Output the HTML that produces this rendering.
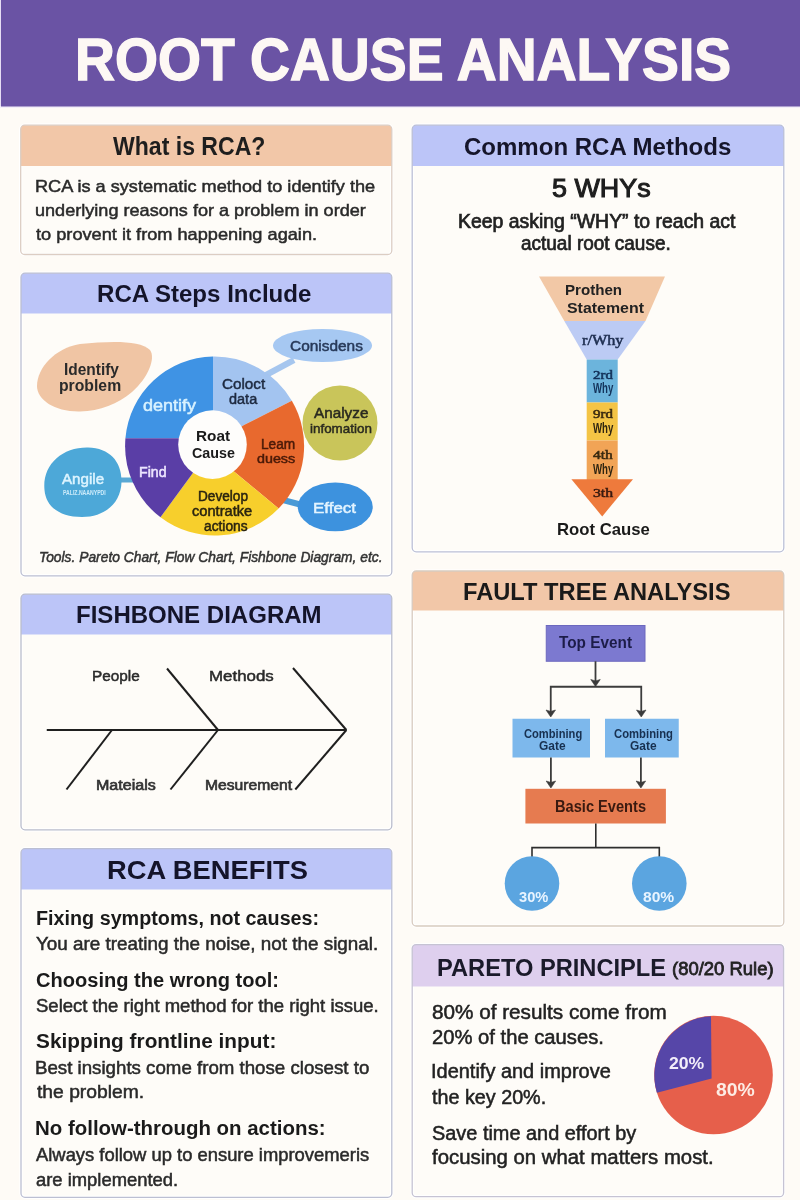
<!DOCTYPE html>
<html><head><meta charset="utf-8"><title>Root Cause Analysis</title>
<style>
html,body{margin:0;padding:0;}
body{width:800px;height:1200px;overflow:hidden;position:relative;background:#FEFBF6;font-family:"Liberation Sans",sans-serif;}
.t{position:absolute;white-space:nowrap;line-height:1;transform-origin:0 0;}
.card{position:absolute;box-sizing:border-box;border-radius:5px;overflow:hidden;background:#FEFCF8;}
.hd{position:absolute;left:0;top:0;right:0;}
svg{position:absolute;left:0;top:0;}
#w{position:absolute;left:0;top:0;width:800px;height:1200px;overflow:hidden;filter:blur(0.3px);}
</style></head><body><div id="w">
<svg width="800" height="1200" viewBox="0 0 800 1200">
<rect x="0" y="0" width="1.2" height="108" fill="#E6DDF4"/>
<rect x="0" y="106" width="800" height="2" fill="#F3EEF8"/>
<rect x="1" y="0" width="799" height="106.5" fill="#6A53A4"/>
<rect x="20.7" y="125.2" width="371.10" height="129.30" rx="4" fill="#FEFCF8" stroke="#FFFFFF" stroke-width="3.2"/>
<path d="M20.7,166 V129.2 a4,4 0 0 1 4,-4 H387.8 a4,4 0 0 1 4,4 V166 Z" fill="#F2C7A8"/>
<rect x="20.7" y="125.2" width="371.10" height="129.30" rx="4" fill="none" stroke="#DCCDC3" stroke-width="1.3"/>
<rect x="21" y="273.2" width="370.80" height="302.60" rx="4" fill="#FEFCF8" stroke="#FFFFFF" stroke-width="3.2"/>
<path d="M21,313.5 V277.2 a4,4 0 0 1 4,-4 H387.8 a4,4 0 0 1 4,4 V313.5 Z" fill="#BCC5F8"/>
<rect x="21" y="273.2" width="370.80" height="302.60" rx="4" fill="none" stroke="#BCBFD2" stroke-width="1.3"/>
<rect x="21" y="594.2" width="370.80" height="235.60" rx="4" fill="#FEFCF8" stroke="#FFFFFF" stroke-width="3.2"/>
<path d="M21,634.5 V598.2 a4,4 0 0 1 4,-4 H387.8 a4,4 0 0 1 4,4 V634.5 Z" fill="#BCC5F8"/>
<rect x="21" y="594.2" width="370.80" height="235.60" rx="4" fill="none" stroke="#BABDCC" stroke-width="1.3"/>
<rect x="21" y="848.7" width="370.80" height="348.60" rx="4" fill="#FEFCF8" stroke="#FFFFFF" stroke-width="3.2"/>
<path d="M21,889.5 V852.7 a4,4 0 0 1 4,-4 H387.8 a4,4 0 0 1 4,4 V889.5 Z" fill="#BCC5F8"/>
<rect x="21" y="848.7" width="370.80" height="348.60" rx="4" fill="none" stroke="#BCBFD2" stroke-width="1.3"/>
<rect x="412.2" y="125.2" width="371.60" height="426.60" rx="4" fill="#FEFCF8" stroke="#FFFFFF" stroke-width="3.2"/>
<path d="M412.2,166 V129.2 a4,4 0 0 1 4,-4 H779.8 a4,4 0 0 1 4,4 V166 Z" fill="#BCC5F8"/>
<rect x="412.2" y="125.2" width="371.60" height="426.60" rx="4" fill="none" stroke="#BCC0D6" stroke-width="1.3"/>
<rect x="412.2" y="571" width="371.60" height="355.00" rx="4" fill="#FEFCF8" stroke="#FFFFFF" stroke-width="3.2"/>
<path d="M412.2,610.5 V575 a4,4 0 0 1 4,-4 H779.8 a4,4 0 0 1 4,4 V610.5 Z" fill="#F2C7A8"/>
<rect x="412.2" y="571" width="371.60" height="355.00" rx="4" fill="none" stroke="#D8CBBF" stroke-width="1.3"/>
<rect x="412.2" y="944.6" width="371.40" height="252.10" rx="4" fill="#FEFCF8" stroke="#FFFFFF" stroke-width="3.2"/>
<path d="M412.2,986.5 V948.6 a4,4 0 0 1 4,-4 H779.6 a4,4 0 0 1 4,4 V986.5 Z" fill="#DECFEE"/>
<rect x="412.2" y="944.6" width="371.40" height="252.10" rx="4" fill="none" stroke="#C6C3D3" stroke-width="1.3"/>
<!-- RCA steps diagram -->
<path d="M80,344 C110,341 140,340 150,350 C156,358 148,378 132,392 C118,404 100,411 80,411.5 C55,412 37,400 37,386 C37,368 55,348 80,344 Z" fill="#F0C5A4"/>
<line x1="294" y1="360" x2="266" y2="375" stroke="#A6C6EE" stroke-width="6"/>
<ellipse cx="322.5" cy="345.5" rx="49.5" ry="16.5" fill="#A6C8F2"/>
<circle cx="340" cy="423" r="37.5" fill="#C9C55A"/>
<line x1="118" y1="480" x2="134" y2="480" stroke="#5AA8D4" stroke-width="5"/>
<path d="M44.5,490 C42,465 62,447 88,447.5 C110,448 122,462 121.5,482 C121,503 105,517 82,517 C60,517 46,507 44.5,490 Z" fill="#4DA8D8"/>
<line x1="283" y1="500" x2="302" y2="505" stroke="#4A9AD6" stroke-width="6"/>
<ellipse cx="335.25" cy="506.9" rx="37.5" ry="24.4" fill="#3D92DE"/>
<path d="M212.5,444.5 L205.00,438.30 L125.43,438.30 A89.5,89.5 0 0 1 213.00,356.51 L213.00,420.00 Z" fill="#3F93E4"/>
<path d="M212.5,444.5 L213.00,420.00 L213.00,356.51 A89.5,89.5 0 0 1 291.86,400.82 L244.00,425.00 Z" fill="#A3C4F0"/>
<path d="M212.5,444.5 L244.00,425.00 L291.86,400.82 A89.5,89.5 0 0 1 278.60,508.57 L234.00,471.40 Z" fill="#E8692E"/>
<path d="M212.5,444.5 L234.00,471.40 L278.60,508.57 A89.5,89.5 0 0 1 160.47,517.27 L192.90,473.10 Z" fill="#F7CF2C"/>
<path d="M212.5,444.5 L192.90,473.10 L160.47,517.27 A89.5,89.5 0 0 1 125.43,438.30 L205.00,438.30 Z" fill="#5A3EA6"/>
<circle cx="212.5" cy="444.6" r="34.3" fill="#FEFDFB"/>
<!-- funnel -->
<polygon points="539,276.6 665,276.6 645.5,321 564.3,321" fill="#F2C8A6"/>
<polygon points="564.3,321 645.5,321 617.7,359.6 586.7,359.6" fill="#BCCBF4"/>
<rect x="586.7" y="359.5" width="31" height="43" fill="#6CB4DC"/>
<rect x="586.7" y="402.5" width="31" height="38" fill="#F4C445"/>
<rect x="586.7" y="440.5" width="31" height="39.5" fill="#F1A456"/>
<polygon points="571.4,479.2 633,479.2 602.2,516.4" fill="#EE7A3C"/>
<!-- fishbone -->
<g stroke="#1F1F1F" stroke-width="2" fill="none" stroke-linecap="butt">
<line x1="46.75" y1="730" x2="346.4" y2="730"/>
<line x1="167" y1="668.5" x2="218" y2="730"/>
<line x1="293" y1="668" x2="346.4" y2="730"/>
<line x1="112" y1="730" x2="66.5" y2="789.5"/>
<line x1="218" y1="730" x2="170.5" y2="789.5"/>
<line x1="346.4" y1="730" x2="295.3" y2="789.5"/>
</g>
<!-- fault tree -->
<rect x="546.25" y="625.5" width="98.75" height="35.75" fill="#7C79D0" stroke="#6C68BE" stroke-width="1"/>
<rect x="512.5" y="718.75" width="77.5" height="38.75" fill="#7DB8EC"/>
<rect x="605" y="718.75" width="73.75" height="38.75" fill="#7DB8EC"/>
<rect x="525.4" y="788.8" width="140.5" height="34.7" fill="#E67B50"/>
<g stroke="#3C3C3C" stroke-width="1.8" fill="none">
<line x1="595.5" y1="661.25" x2="595.5" y2="684"/>
<polyline points="550.75,714 550.75,686.75 641.25,686.75 641.25,714"/>
<line x1="550.9" y1="757.5" x2="550.9" y2="785"/>
<line x1="640.9" y1="757.5" x2="640.9" y2="785"/>
</g>
<g fill="#3A3A3A" stroke="#3A3A3A" stroke-width="0.6" stroke-linejoin="round">
<path d="M590.75,679.50 L595.50,680.90 L600.25,679.50 L595.50,686.50 Z"/>
<path d="M546.00,710.00 L550.75,711.40 L555.50,710.00 L550.75,717.00 Z"/>
<path d="M636.50,710.00 L641.25,711.40 L646.00,710.00 L641.25,717.00 Z"/>
<path d="M546.15,781.00 L550.90,782.40 L555.65,781.00 L550.90,788.00 Z"/>
<path d="M636.15,781.00 L640.90,782.40 L645.65,781.00 L640.90,788.00 Z"/>
</g>
<g stroke="#2E2E2E" stroke-width="1.6" fill="none">
<line x1="595.8" y1="823.5" x2="595.8" y2="847.6"/>
<polyline points="532,857 532,847.6 659.3,847.6 659.3,857"/>
</g>
<circle cx="532" cy="883.5" r="27.3" fill="#5BA5E0"/>
<circle cx="659.3" cy="883.5" r="27.3" fill="#5BA5E0"/>
<!-- pareto pie -->
<circle cx="713.5" cy="1075" r="59.3" fill="#E65F4B"/>
<path d="M711.6,1078.5 L711,1016.2 A59.3,59.3 0 0 0 656.9,1092.8 Z" fill="#5646A8"/>

</svg>
<div class="t" id="t0" style="left:75.44px;top:30.00px;font-size:60.14px;font-weight:700;color:#FDF8F4;-webkit-text-stroke:1.4px currentColor;transform:scaleX(0.9193);">ROOT CAUSE ANALYSIS</div>
<div class="t" id="t1" style="left:112.57px;top:134.00px;font-size:25.07px;font-weight:700;color:#1E1E1E;transform:scaleX(0.9198);">What is RCA?</div>
<div class="t" id="t2" style="left:34.95px;top:178.00px;font-size:17.39px;font-weight:400;color:#2A2A2A;-webkit-text-stroke:0.5px currentColor;transform:scaleX(1.0454);">RCA is a systematic method to identify the</div>
<div class="t" id="t3" style="left:35.10px;top:202.00px;font-size:17.39px;font-weight:400;color:#2A2A2A;-webkit-text-stroke:0.5px currentColor;transform:scaleX(1.0412);">underlying reasons for a problem in order</div>
<div class="t" id="t4" style="left:36.12px;top:226.00px;font-size:17.39px;font-weight:400;color:#2A2A2A;-webkit-text-stroke:0.5px currentColor;transform:scaleX(1.0467);">to provent it from happening again.</div>
<div class="t" id="t5" style="left:463.87px;top:135.00px;font-size:24.64px;font-weight:700;color:#15152A;transform:scaleX(0.9753);">Common RCA Methods</div>
<div class="t" id="t6" style="left:551.83px;top:176.00px;font-size:24.93px;font-weight:500;color:#1E1E1E;-webkit-text-stroke:1.0px currentColor;transform:scaleX(1.0799);">5 WHYs</div>
<div class="t" id="t7" style="left:458.22px;top:212.00px;font-size:19.57px;font-weight:500;color:#222;-webkit-text-stroke:0.7px currentColor;transform:scaleX(0.9930);">Keep asking “WHY” to reach act</div>
<div class="t" id="t8" style="left:520.50px;top:234.00px;font-size:19.57px;font-weight:500;color:#222;-webkit-text-stroke:0.7px currentColor;transform:scaleX(0.9695);">actual root cause.</div>
<div class="t" id="t9" style="left:564.87px;top:282.00px;font-size:15.07px;font-weight:700;color:#222;transform:scaleX(1.0035);">Prothen</div>
<div class="t" id="t10" style="left:566.87px;top:300.00px;font-size:15.07px;font-weight:700;color:#222;transform:scaleX(1.0572);">Statement</div>
<div class="t" id="t11" style="left:582.04px;top:333.00px;font-size:14.96px;font-weight:400;color:#1E2E50;font-family:'Liberation Serif',serif;-webkit-text-stroke:0.55px currentColor;transform:scaleX(1.0835);">r/Why</div>
<div class="t" id="t12" style="left:593.18px;top:368.00px;font-size:12.98px;font-weight:400;color:#13325a;font-family:'Liberation Serif',serif;-webkit-text-stroke:0.55px currentColor;transform:scaleX(1.1476);">2rd</div>
<div class="t" id="t13" style="left:592.85px;top:382.00px;font-size:13.77px;font-weight:700;color:#13325a;transform:scaleX(0.6982);">Why</div>
<div class="t" id="t14" style="left:593.20px;top:407.00px;font-size:12.98px;font-weight:400;color:#3a2a10;font-family:'Liberation Serif',serif;-webkit-text-stroke:0.55px currentColor;transform:scaleX(1.1463);">9rd</div>
<div class="t" id="t15" style="left:592.85px;top:422.00px;font-size:13.77px;font-weight:700;color:#2e2410;transform:scaleX(0.6982);">Why</div>
<div class="t" id="t16" style="left:593.37px;top:448.00px;font-size:12.98px;font-weight:400;color:#3a2a10;font-family:'Liberation Serif',serif;-webkit-text-stroke:0.55px currentColor;transform:scaleX(1.1924);">4th</div>
<div class="t" id="t17" style="left:592.85px;top:463.00px;font-size:13.77px;font-weight:700;color:#2e2410;transform:scaleX(0.6982);">Why</div>
<div class="t" id="t18" style="left:593.09px;top:486.00px;font-size:12.98px;font-weight:400;color:#3a1a10;font-family:'Liberation Serif',serif;-webkit-text-stroke:0.55px currentColor;transform:scaleX(1.2096);">3th</div>
<div class="t" id="t19" style="left:556.78px;top:522.00px;font-size:16.67px;font-weight:700;color:#1a1a1a;transform:scaleX(1.0039);">Root Cause</div>
<div class="t" id="t20" style="left:97.13px;top:282.00px;font-size:24.78px;font-weight:700;color:#14142A;transform:scaleX(0.9716);">RCA Steps Include</div>
<div class="t" id="t21" style="left:63.87px;top:361.00px;font-size:16.23px;font-weight:700;color:#2a2a2a;transform:scaleX(0.9531);">Identify</div>
<div class="t" id="t22" style="left:58.83px;top:378.00px;font-size:15.94px;font-weight:700;color:#2a2a2a;transform:scaleX(0.9884);">problem</div>
<div class="t" id="t23" style="left:290.43px;top:338.00px;font-size:15.07px;font-weight:400;color:#283a5a;-webkit-text-stroke:0.5px currentColor;transform:scaleX(1.0243);">Conisdens</div>
<div class="t" id="t24" style="left:143.22px;top:398.00px;font-size:15.94px;font-weight:400;color:#D8F2FF;-webkit-text-stroke:0.5px currentColor;transform:scaleX(1.1307);">dentify</div>
<div class="t" id="t25" style="left:221.95px;top:376.00px;font-size:15.22px;font-weight:400;color:#1e2a40;-webkit-text-stroke:0.5px currentColor;transform:scaleX(1.0012);">Coloct</div>
<div class="t" id="t26" style="left:229.05px;top:391.00px;font-size:15.22px;font-weight:400;color:#1e2a40;-webkit-text-stroke:0.5px currentColor;transform:scaleX(0.9517);">data</div>
<div class="t" id="t27" style="left:313.86px;top:406.00px;font-size:14.49px;font-weight:400;color:#2a2a20;-webkit-text-stroke:0.5px currentColor;transform:scaleX(1.0553);">Analyze</div>
<div class="t" id="t28" style="left:310.41px;top:422.00px;font-size:13.33px;font-weight:400;color:#2a2a20;-webkit-text-stroke:0.5px currentColor;transform:scaleX(1.0063);">infomation</div>
<div class="t" id="t29" style="left:196.32px;top:429.00px;font-size:14.49px;font-weight:700;color:#1a1a1a;transform:scaleX(1.0582);">Roat</div>
<div class="t" id="t30" style="left:191.85px;top:446.00px;font-size:14.49px;font-weight:700;color:#1a1a1a;transform:scaleX(0.9876);">Cause</div>
<div class="t" id="t31" style="left:261.41px;top:438.00px;font-size:13.77px;font-weight:400;color:#4a1a08;-webkit-text-stroke:0.5px currentColor;transform:scaleX(0.9931);">Leam</div>
<div class="t" id="t32" style="left:257.08px;top:452.00px;font-size:13.04px;font-weight:400;color:#4a1a08;-webkit-text-stroke:0.5px currentColor;transform:scaleX(1.0966);">duess</div>
<div class="t" id="t33" style="left:138.87px;top:466.00px;font-size:13.77px;font-weight:400;color:#EDE6FF;-webkit-text-stroke:0.5px currentColor;transform:scaleX(1.0286);">Find</div>
<div class="t" id="t34" style="left:62.11px;top:471.00px;font-size:15.22px;font-weight:400;color:#DDF4FF;-webkit-text-stroke:0.5px currentColor;transform:scaleX(0.9961);">Angile</div>
<div class="t" id="t35" style="left:62.64px;top:489.00px;font-size:7.25px;font-weight:700;color:#CDEBFA;transform:scaleX(0.7091);">PALIZ.NAANYPDI</div>
<div class="t" id="t36" style="left:197.66px;top:490.00px;font-size:13.77px;font-weight:400;color:#2a2410;-webkit-text-stroke:0.5px currentColor;transform:scaleX(0.9893);">Develop</div>
<div class="t" id="t37" style="left:192.06px;top:505.00px;font-size:13.77px;font-weight:400;color:#2a2410;-webkit-text-stroke:0.5px currentColor;transform:scaleX(1.0621);">contratke</div>
<div class="t" id="t38" style="left:204.07px;top:520.00px;font-size:13.77px;font-weight:400;color:#2a2410;-webkit-text-stroke:0.5px currentColor;transform:scaleX(0.9988);">actions</div>
<div class="t" id="t39" style="left:313.42px;top:500.00px;font-size:15.22px;font-weight:400;color:#E3F4FF;-webkit-text-stroke:0.5px currentColor;transform:scaleX(1.1141);">Effect</div>
<div class="t" id="t40" style="left:39.31px;top:550.00px;font-size:14.49px;font-weight:400;color:#333;font-style:italic;-webkit-text-stroke:0.5px currentColor;transform:scaleX(0.9540);">Tools. Pareto Chart, Flow Chart, Fishbone Diagram, etc.</div>
<div class="t" id="t41" style="left:75.97px;top:603.00px;font-size:24.49px;font-weight:700;color:#14142A;transform:scaleX(0.9813);">FISHBONE DIAGRAM</div>
<div class="t" id="t42" style="left:92.16px;top:668.00px;font-size:15.51px;font-weight:400;color:#2A2A2A;-webkit-text-stroke:0.5px currentColor;transform:scaleX(0.9889);">People</div>
<div class="t" id="t43" style="left:209.05px;top:668.00px;font-size:15.51px;font-weight:400;color:#2A2A2A;-webkit-text-stroke:0.5px currentColor;transform:scaleX(1.0902);">Methods</div>
<div class="t" id="t44" style="left:96.25px;top:777.00px;font-size:15.51px;font-weight:500;color:#333;-webkit-text-stroke:0.7px currentColor;transform:scaleX(1.0355);">Mateials</div>
<div class="t" id="t45" style="left:205.08px;top:777.00px;font-size:15.51px;font-weight:500;color:#333;-webkit-text-stroke:0.7px currentColor;transform:scaleX(1.0105);">Mesurement</div>
<div class="t" id="t46" style="left:462.89px;top:580.00px;font-size:24.06px;font-weight:700;color:#1a1a1a;transform:scaleX(0.9844);">FAULT TREE ANALYSIS</div>
<div class="t" id="t47" style="left:558.51px;top:635.00px;font-size:15.58px;font-weight:700;color:#1c1c48;transform:scaleX(0.9846);">Top Event</div>
<div class="t" id="t48" style="left:523.76px;top:728.00px;font-size:12.32px;font-weight:700;color:#173050;transform:scaleX(0.9053);">Combining</div>
<div class="t" id="t49" style="left:539.48px;top:740.00px;font-size:12.32px;font-weight:700;color:#173050;transform:scaleX(0.9694);">Gate</div>
<div class="t" id="t50" style="left:613.76px;top:728.00px;font-size:12.32px;font-weight:700;color:#173050;transform:scaleX(0.9172);">Combining</div>
<div class="t" id="t51" style="left:630.23px;top:740.00px;font-size:12.32px;font-weight:700;color:#173050;transform:scaleX(0.9694);">Gate</div>
<div class="t" id="t52" style="left:554.51px;top:799.00px;font-size:15.94px;font-weight:700;color:#3a1a10;transform:scaleX(0.9178);">Basic Events</div>
<div class="t" id="t53" style="left:518.82px;top:890.00px;font-size:14.49px;font-weight:700;color:#E8F4FF;transform:scaleX(1.0120);">30%</div>
<div class="t" id="t54" style="left:642.93px;top:890.00px;font-size:14.49px;font-weight:700;color:#E8F4FF;transform:scaleX(1.0781);">80%</div>
<div class="t" id="t55" style="left:106.85px;top:858.00px;font-size:25.36px;font-weight:700;color:#14142A;transform:scaleX(1.0775);">RCA BENEFITS</div>
<div class="t" id="t56" style="left:35.73px;top:908.00px;font-size:20.29px;font-weight:700;color:#1a1a1a;transform:scaleX(0.9739);">Fixing symptoms, not causes:</div>
<div class="t" id="t57" style="left:36.21px;top:936.00px;font-size:17.83px;font-weight:400;color:#2A2A2A;-webkit-text-stroke:0.5px currentColor;transform:scaleX(1.0581);">You are treating the noise, not the signal.</div>
<div class="t" id="t58" style="left:35.56px;top:970.00px;font-size:20.29px;font-weight:700;color:#1a1a1a;transform:scaleX(0.9895);">Choosing the wrong tool:</div>
<div class="t" id="t59" style="left:35.81px;top:998.00px;font-size:17.83px;font-weight:400;color:#2A2A2A;-webkit-text-stroke:0.5px currentColor;transform:scaleX(1.0387);">Select the right method for the right issue.</div>
<div class="t" id="t60" style="left:35.84px;top:1031.00px;font-size:20.29px;font-weight:700;color:#1a1a1a;transform:scaleX(1.0257);">Skipping frontline input:</div>
<div class="t" id="t61" style="left:35.28px;top:1060.00px;font-size:17.83px;font-weight:400;color:#2A2A2A;-webkit-text-stroke:0.5px currentColor;transform:scaleX(1.0478);">Best insights come from those closest to</div>
<div class="t" id="t62" style="left:37.14px;top:1084.00px;font-size:17.83px;font-weight:400;color:#2A2A2A;-webkit-text-stroke:0.5px currentColor;transform:scaleX(1.0811);">the problem.</div>
<div class="t" id="t63" style="left:35.18px;top:1118.00px;font-size:20.29px;font-weight:700;color:#1a1a1a;transform:scaleX(1.0077);">No follow-through on actions:</div>
<div class="t" id="t64" style="left:36.46px;top:1147.00px;font-size:17.83px;font-weight:400;color:#2A2A2A;-webkit-text-stroke:0.5px currentColor;transform:scaleX(1.0315);">Always follow up to ensure improvemeris</div>
<div class="t" id="t65" style="left:36.03px;top:1172.00px;font-size:17.83px;font-weight:400;color:#2A2A2A;-webkit-text-stroke:0.5px currentColor;transform:scaleX(1.0314);">are implemented.</div>
<div class="t" id="t66" style="left:436.89px;top:956.00px;font-size:24.35px;font-weight:700;color:#1a1a2a;transform:scaleX(0.9715);">PARETO PRINCIPLE</div>
<div class="t" id="t67" style="left:671.77px;top:960.00px;font-size:18.84px;font-weight:500;color:#222;-webkit-text-stroke:0.8px currentColor;transform:scaleX(0.9801);">(80/20 Rule)</div>
<div class="t" id="t68" style="left:431.70px;top:1003.00px;font-size:19.57px;font-weight:400;color:#222222;-webkit-text-stroke:0.5px currentColor;transform:scaleX(1.0582);">80% of results come from</div>
<div class="t" id="t69" style="left:431.62px;top:1028.00px;font-size:19.57px;font-weight:400;color:#222222;-webkit-text-stroke:0.5px currentColor;transform:scaleX(1.0332);">20% of the causes.</div>
<div class="t" id="t70" style="left:430.78px;top:1062.00px;font-size:19.57px;font-weight:400;color:#222222;-webkit-text-stroke:0.5px currentColor;transform:scaleX(1.0205);">Identify and improve</div>
<div class="t" id="t71" style="left:432.17px;top:1088.00px;font-size:19.57px;font-weight:400;color:#222222;-webkit-text-stroke:0.5px currentColor;transform:scaleX(1.0095);">the key 20%.</div>
<div class="t" id="t72" style="left:431.61px;top:1124.00px;font-size:19.57px;font-weight:400;color:#222222;-webkit-text-stroke:0.5px currentColor;transform:scaleX(1.0175);">Save time and effort by</div>
<div class="t" id="t73" style="left:432.17px;top:1148.00px;font-size:19.57px;font-weight:400;color:#222222;-webkit-text-stroke:0.5px currentColor;transform:scaleX(1.0403);">focusing on what matters most.</div>
<div class="t" id="t74" style="left:669.46px;top:1055.00px;font-size:17.39px;font-weight:700;color:#F2EEFA;transform:scaleX(1.0151);">20%</div>
<div class="t" id="t75" style="left:716.32px;top:1081.00px;font-size:18.12px;font-weight:700;color:#FDECE4;transform:scaleX(1.0708);">80%</div>
</div></body></html>
